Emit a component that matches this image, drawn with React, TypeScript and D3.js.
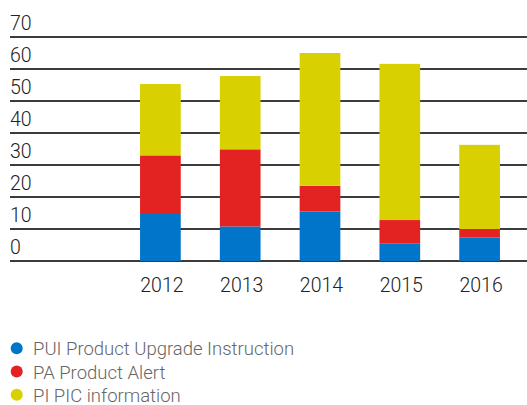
import React from 'react';
import * as d3 from 'd3';

const years = ['2012', '2013', '2014', '2015', '2016'];
const pui = [15, 10.8, 15.5, 5.4, 7.3];
const pa = [18, 24.1, 8, 7.4, 2.7];
const pi = [22.3, 22.9, 41.5, 48.8, 26.3];
const yTicks = [0, 10, 20, 30, 40, 50, 60, 70];

const seriesKeys = ['pui', 'pa', 'pi'];
const seriesLabels = ['PUI Product Upgrade Instruction', 'PA Product Alert', 'PI PIC information'];
const colors = ['#0075c9', '#e32322', '#d8d000'];

const W = 527;
const H = 405;
const font = 'Roboto, "Liberation Sans", Arial, sans-serif';

const App: React.FC = () => {
  const rows = years.map((year, i) => ({ year, pui: pui[i], pa: pa[i], pi: pi[i] }));
  const stacked = d3.stack<any>().keys(seriesKeys)(rows);

  const x = d3.scaleBand()
    .domain(years)
    .range([120.5, 519.5])
    .paddingInner(0.49)
    .paddingOuter(0.245);

  const y = d3.scaleLinear()
    .domain([0, 70])
    .range([261, 37]);

  return (
    <svg width={W} height={H} style={{ position: 'absolute', left: 0, top: 0 }}>
      <g>
        {yTicks.map(t => (
          <g key={t}>
            <line x1={10} x2={W} y1={y(t)} y2={y(t)} stroke="#3c3c3c" strokeWidth={2} />
            <text x={10} y={y(t) - 7} fontFamily={font} fontWeight={300} fontSize={19.5} fill="#222">
              {t}
            </text>
          </g>
        ))}
      </g>
      <g>
        {stacked.map((s, si) => (
          <g key={s.key} fill={colors[si]}>
            {s.map((d, i) => (
              <rect
                key={years[i]}
                x={x(years[i])}
                y={y(d[1])}
                width={x.bandwidth()}
                height={y(d[0]) - y(d[1])}
              />
            ))}
          </g>
        ))}
      </g>
      <g>
        {years.map(yr => (
          <text
            key={yr}
            x={(x(yr) as number) + x.bandwidth() / 2 + 1.5}
            y={292}
            textAnchor="middle"
            fontFamily={font}
            fontWeight={300}
            fontSize={19.5}
            fill="#222"
          >
            {yr}
          </text>
        ))}
      </g>
      <g>
        {seriesLabels.map((label, i) => (
          <g key={label} transform={`translate(0, ${348.3 + i * 23.2})`}>
            <circle cx={16.7} cy={0} r={6} fill={colors[i]} />
            <text x={33} y={7} fontFamily={font} fontWeight={300} fontSize={18.5} fill="#666">
              {label}
            </text>
          </g>
        ))}
      </g>
    </svg>
  );
};

export default App;
